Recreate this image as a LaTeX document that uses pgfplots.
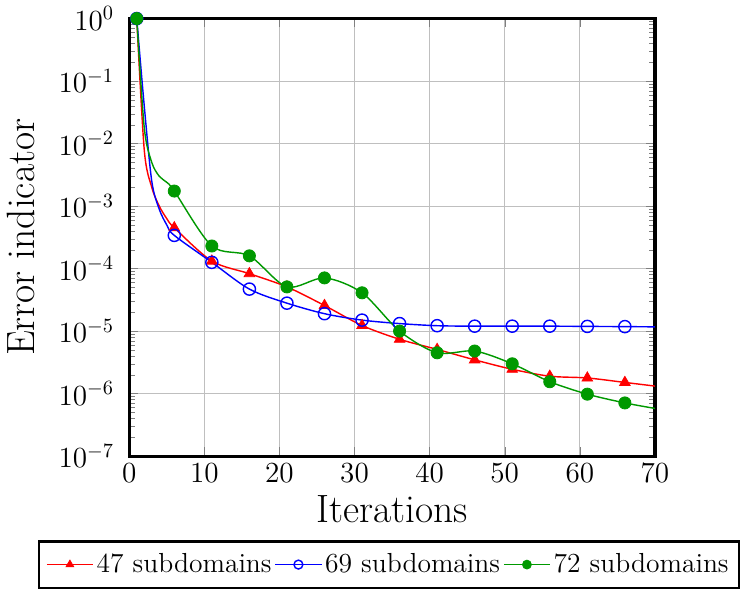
\documentclass[border=0pt]{standalone}
\usepackage{pgfplots}
\pgfplotsset{compat=1.18}

\begin{document}
\begin{tikzpicture}
\begin{axis}[
    scale only axis,
    width=259.5pt, height=216pt,
    xmin=0, xmax=70,
    ymode=log, ymin=1e-7, ymax=1,
    xtick={0,10,...,70},
    ytick={1e-7,1e-6,1e-5,1e-4,1e-3,1e-2,1e-1,1},
    grid=major,
    axis line style={ultra thick},
    tick label style={font=\Large},
    yticklabel style={xshift=-4pt},
    ylabel shift=5pt,
    label style={font=\fontsize{19.5}{23}\selectfont},
    xlabel={Iterations},
    ylabel={Error indicator},
    legend columns=3,
    legend style={at={(0.494,-0.192)}, anchor=north,
        font=\fontsize{13.6}{16}\selectfont,
        nodes={inner xsep=1.5pt},
        draw=black, very thick, inner xsep=3.5pt, inner ysep=4pt},
    legend image code/.code={
        \draw[#1, mark indices={2}, mark size=2.2pt] plot coordinates {(0cm,0cm) (0.4cm,0cm) (0.8cm,0cm)};},
    every axis plot/.append style={line width=0.7pt, smooth, mark size=3pt,
        mark indices={1,6,7,8,9,10,11,12,13,14,15,16,17,18}},
]
\addplot[red, mark=triangle*, mark options={solid, line width=0.4pt}] coordinates {
 (1,1) (2,7.9e-3) (3,2.0e-3) (4,1.0e-3) (5,6.3e-4) (6,4.5e-4)
 (11,1.32e-4) (16,8.3e-5) (21,5.1e-5) (26,2.57e-5) (31,1.23e-5) (36,7.4e-6)
 (41,5.1e-6) (46,3.47e-6) (51,2.45e-6) (56,1.9e-6) (61,1.78e-6) (66,1.51e-6) (70,1.32e-6)
};
\addlegendentry{47 subdomains}
\addplot[blue, mark=o, mark options={solid, line width=0.7pt}] coordinates {
 (1,1) (2,0.04) (3,2.5e-3) (4,8.9e-4) (5,5.0e-4) (6,3.4e-4)
 (11,1.26e-4) (16,4.7e-5) (21,2.8e-5) (26,1.9e-5) (31,1.5e-5) (36,1.32e-5)
 (41,1.22e-5) (46,1.2e-5) (51,1.2e-5) (56,1.2e-5) (61,1.19e-5) (66,1.18e-5) (70,1.17e-5)
};
\addlegendentry{69 subdomains}
\addplot[green!60!black, mark=*, mark options={solid, line width=0.4pt}] coordinates {
 (1,1) (2,1.8e-2) (3,5.0e-3) (4,3.0e-3) (5,2.4e-3) (6,1.74e-3)
 (11,2.3e-4) (16,1.6e-4) (21,5.1e-5) (26,7.1e-5) (31,4.1e-5) (36,1.0e-5)
 (41,4.5e-6) (46,4.8e-6) (51,3.0e-6) (56,1.55e-6) (61,9.8e-7) (66,7.1e-7) (70,5.8e-7)
};
\addlegendentry{72 subdomains}
\end{axis}
\end{tikzpicture}
\end{document}
